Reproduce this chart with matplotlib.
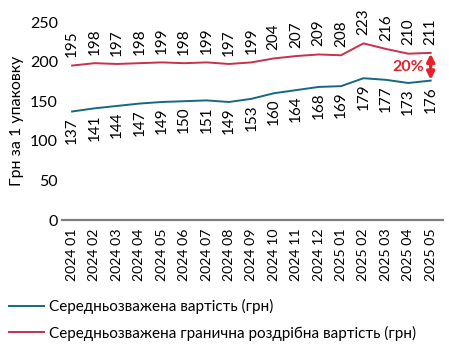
import matplotlib
matplotlib.use("Agg")
import matplotlib.pyplot as plt

plt.rcParams['font.family'] = ['Lato', 'DejaVu Sans']

months = ["2024 01", "2024 02", "2024 03", "2024 04", "2024 05", "2024 06",
          "2024 07", "2024 08", "2024 09", "2024 10", "2024 11", "2024 12",
          "2025 01", "2025 02", "2025 03", "2025 04", "2025 05"]
avg_cost = [137, 141, 144, 147, 149, 150, 151, 149, 153, 160, 164, 168,
            169, 179, 177, 173, 176]
max_retail = [195, 198, 197, 198, 199, 198, 199, 197, 199, 204, 207, 209,
              208, 223, 216, 210, 211]
gap_label = "20%"

teal = "#15697f"
crimson = "#c8304d"
red = "#e8202a"

fig = plt.figure(figsize=(4.49, 3.48), dpi=100)
ax = fig.add_axes([62 / 449, 1 - 220 / 348, 381 / 449, 198 / 348])

x = list(range(len(months)))
ax.plot(x, avg_cost, color=teal, lw=1.4, label="Середньозважена вартість (грн)")
ax.plot(x, max_retail, color=crimson, lw=1.4,
        label="Середньозважена гранична роздрібна вартість (грн)")

for xi, v in zip(x, max_retail):
    ax.annotate(str(v), (xi, v), xytext=(0, 6), textcoords="offset points",
                rotation=90, ha="center", va="bottom", fontsize=11)
for xi, v in zip(x, avg_cost):
    ax.annotate(str(v), (xi, v), xytext=(0, -4), textcoords="offset points",
                rotation=90, ha="center", va="top", fontsize=11)

# gap between the two series at the last month
last = x[-1]
ax.annotate("", xy=(last, max_retail[-1] - 1), xytext=(last, avg_cost[-1] + 1),
            arrowprops=dict(arrowstyle="<|-|>", color=red, lw=2.4,
                            mutation_scale=11, shrinkA=0, shrinkB=0))
ax.text(last - 0.3, (max_retail[-1] + avg_cost[-1]) / 2, gap_label,
        color=red, fontsize=11.5, fontweight="bold", ha="right", va="center")

ax.set_xlim(-0.45, len(months) - 0.45)
ax.set_ylim(0, 250)
ax.set_yticks([0, 50, 100, 150, 200, 250])
ax.set_xticks(x)
ax.set_xticklabels(months, rotation=90, fontsize=10.2)
ax.tick_params(axis="both", length=0, labelsize=11.5)
ax.tick_params(axis="x", pad=6, labelsize=10.2)
ax.tick_params(axis="y", pad=3)
for s in ["top", "right", "left"]:
    ax.spines[s].set_visible(False)
ax.spines["bottom"].set_color("#808080")
ax.spines["bottom"].set_linewidth(1.6)
ax.set_ylabel("Грн за 1 упаковку", fontsize=11.5, labelpad=4)

fig.legend(loc="upper left", bbox_to_anchor=(6 / 449, 1 - 296 / 348),
           frameon=False, fontsize=11, handlelength=2.3, handletextpad=0.3,
           labelspacing=0.75, borderaxespad=0, borderpad=0.2)

fig.savefig("out.png", dpi=100)
